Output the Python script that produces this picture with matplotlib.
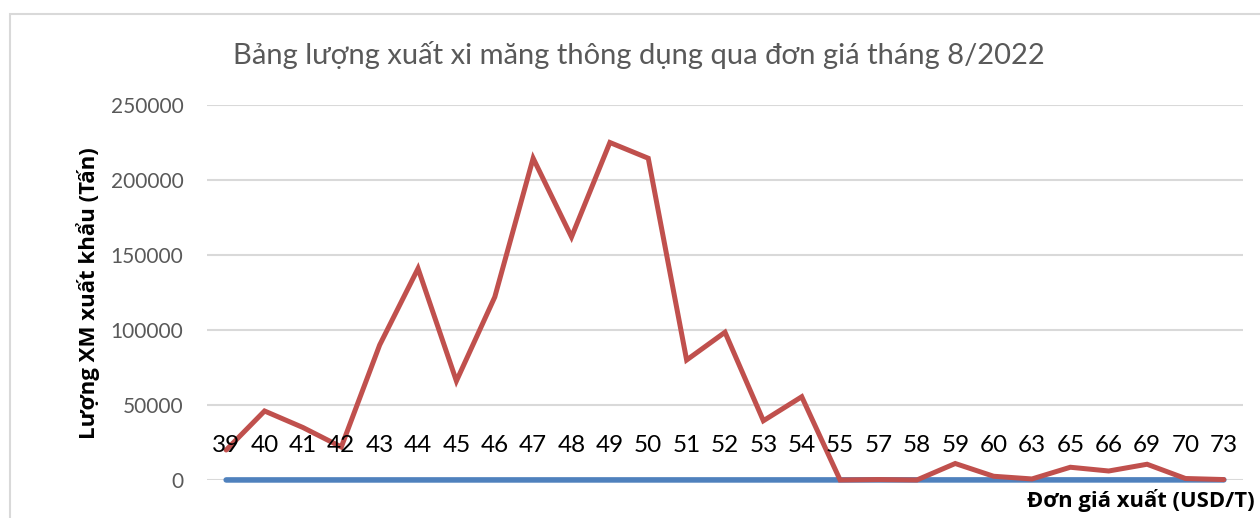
import matplotlib
matplotlib.use("Agg")
import matplotlib.pyplot as plt
from matplotlib.patches import Rectangle

categories = ["39", "40", "41", "42", "43", "44", "45", "46", "47", "48", "49", "50", "51", "52",
              "53", "54", "55", "57", "58", "59", "60", "63", "65", "66", "69", "70", "73"]
price_values = [39, 40, 41, 42, 43, 44, 45, 46, 47, 48, 49, 50, 51, 52,
                53, 54, 55, 57, 58, 59, 60, 63, 65, 66, 69, 70, 73]
volume_values = [20000, 46000, 35000, 22000, 90000, 141000, 66000, 122000, 214500, 162000,
                 225000, 214500, 80000, 98500, 39500, 55500, 0, 300, 0, 11000, 2500, 700,
                 8500, 6000, 10500, 1000, 300]
y_ticks = [0, 50000, 100000, 150000, 200000, 250000]

title = "Bảng lượng xuất xi măng thông dụng qua đơn giá tháng 8/2022"
y_label = "Lượng XM xuất khẩu (Tấn)"
x_label = "Đơn giá xuất (USD/T)"

plt.rcParams['font.family'] = ['Lato', 'DejaVu Sans']
bold_family = ['Open Sans', 'DejaVu Sans']

W, H = 1260, 518
fig = plt.figure(figsize=(W / 100, H / 100), dpi=100)
fig.patch.set_facecolor("white")

# chart frame
fig.patches.append(Rectangle((10 / W, -0.1), 1.2, 1 - 14 / H + 0.1, transform=fig.transFigure,
                             fill=False, edgecolor="#d9d9d9", linewidth=1.5))

ax = fig.add_axes([207 / W, 1 - 480 / H, (1243 - 207) / W, (480 - 105) / H])
x = list(range(len(categories)))
ax.set_xlim(-0.5, len(categories) - 0.5)
ax.set_ylim(0, 250000)
ax.set_yticks(y_ticks)
ax.set_yticklabels([str(v) for v in y_ticks], fontsize=15, color="#595959")
ax.grid(axis="y", color="#d9d9d9", linewidth=1.5)
ax.set_axisbelow(True)
for s in ax.spines.values():
    s.set_visible(False)
ax.tick_params(axis="y", length=0, pad=17)
ax.set_xticks([])

ax.plot(x, price_values, color="#4F81BD", linewidth=4, solid_capstyle="round", clip_on=False, zorder=3)
ax.plot(x, volume_values, color="#C0504D", linewidth=3.6, solid_capstyle="round",
        solid_joinstyle="miter", clip_on=False, zorder=4)

for xi, v, lab in zip(x, price_values, categories):
    ax.annotate(lab, (xi, v), xytext=(0, 25), textcoords="offset points",
                ha="center", va="center", fontsize=17.5, color="black", zorder=5)

fig.text(639 / W, 1 - 55 / H, title, ha="center", va="center", fontsize=21, color="#595959")
fig.text(88 / W, 1 - 293 / H, y_label, ha="center", va="center", rotation=90,
         fontsize=16, fontweight="bold", color="black", family=bold_family)
fig.text(1255 / W, 1 - 500 / H, x_label, ha="right", va="center",
         fontsize=15.8, fontweight="bold", color="black", family=bold_family)

fig.savefig("out.png", dpi=100, facecolor="white")
